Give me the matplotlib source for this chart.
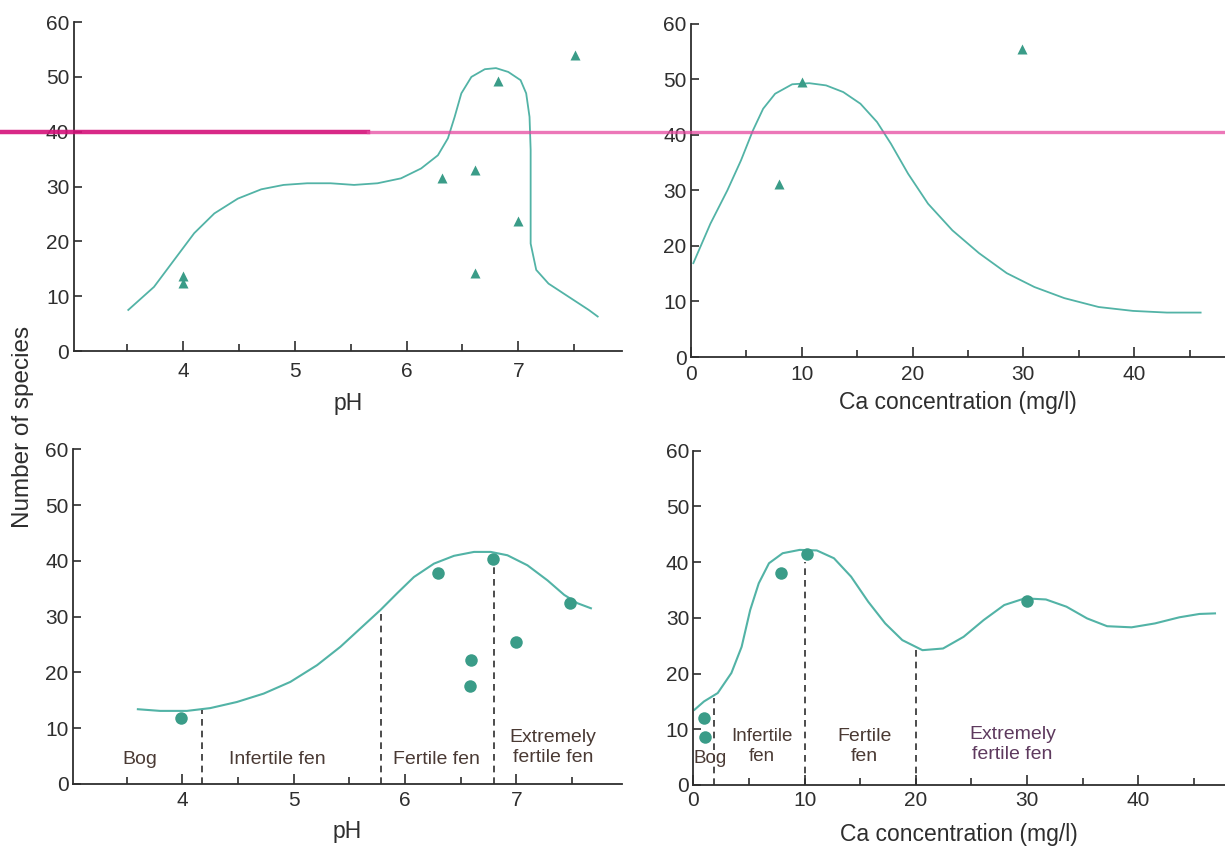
import matplotlib
matplotlib.use("Agg")
import matplotlib.pyplot as plt
import matplotlib.transforms as mtransforms
from matplotlib.lines import Line2D

plt.rcParams['font.family'] = ['Liberation Sans', 'DejaVu Sans']

# --- top left: species vs pH (triangles + fitted curve)
tl_pts_x = [4.0, 4.0, 6.32, 6.61, 6.61, 6.82, 7.0, 7.51]
tl_pts_y = [13.7, 12.5, 31.6, 33.1, 14.3, 49.2, 23.7, 54.0]
tl_curve_x = [3.51, 3.74, 3.92, 4.10, 4.28, 4.49, 4.70, 4.90, 5.11, 5.32, 5.53, 5.74,
              5.95, 6.13, 6.28, 6.37, 6.43, 6.49, 6.58, 6.70, 6.80, 6.91, 7.02, 7.07,
              7.10, 7.11, 7.11, 7.11, 7.16, 7.27, 7.45, 7.63, 7.71]
tl_curve_y = [7.5, 11.7, 16.6, 21.5, 25.1, 27.8, 29.5, 30.3, 30.6, 30.6, 30.3, 30.6,
              31.5, 33.3, 35.7, 38.8, 42.7, 47.0, 50.0, 51.4, 51.6, 50.9, 49.4, 47.0,
              42.7, 36.7, 27.5, 19.6, 14.8, 12.3, 9.9, 7.5, 6.3]

# --- top right: species vs Ca
tr_pts_x = [7.96, 10.0, 29.9]
tr_pts_y = [31.2, 49.5, 55.4]
tr_curve_x = [0.22, 1.76, 3.29, 4.52, 5.6, 6.52, 7.6, 9.14, 10.68, 12.2, 13.75, 15.3,
              16.8, 18.05, 19.6, 21.4, 23.6, 26.0, 28.5, 31.0, 33.7, 36.8, 39.9, 42.95,
              46.0]
tr_curve_y = [16.9, 24.0, 30.0, 35.4, 40.8, 44.7, 47.4, 49.1, 49.3, 48.9, 47.7, 45.6,
              42.3, 38.4, 33.0, 27.6, 22.8, 18.7, 15.1, 12.6, 10.6, 9.0, 8.3, 8.0, 8.0]

# --- bottom left: species vs pH (circles)
bl_pts_x = [3.99, 6.30, 6.59, 6.58, 6.79, 7.0, 7.48]
bl_pts_y = [11.8, 37.8, 22.3, 17.6, 40.3, 25.4, 32.5]
bl_curve_x = [3.60, 3.80, 4.04, 4.25, 4.49, 4.73, 4.97, 5.21, 5.42, 5.60, 5.78, 5.93,
              6.08, 6.26, 6.44, 6.62, 6.77, 6.92, 7.10, 7.28, 7.43, 7.55, 7.67]
bl_curve_y = [13.4, 13.1, 13.1, 13.6, 14.7, 16.2, 18.3, 21.3, 24.6, 27.9, 31.2, 34.2,
              37.1, 39.5, 40.9, 41.6, 41.6, 41.0, 39.2, 36.5, 33.9, 32.4, 31.5]
bl_bounds = [4.18, 5.78, 6.80]
bl_bound_tops = [13.3, 31.2, 39.5]
bl_zones = ["Bog", "Infertile fen", "Fertile fen", "Extremely\nfertile fen"]
bl_zone_x = [3.62, 4.85, 6.28, 7.33]
bl_zone_y = [4.4, 4.4, 4.4, 6.6]

# --- bottom right: species vs Ca (circles)
br_pts_x = [0.96, 1.02, 7.84, 10.2, 30.0]
br_pts_y = [12.0, 8.7, 38.0, 41.5, 33.0]
br_curve_x = [0.1, 0.96, 2.19, 3.42, 4.34, 5.11, 5.88, 6.8, 8.03, 9.56, 11.1, 12.64,
              14.18, 15.72, 17.25, 18.79, 20.6, 22.45, 24.3, 26.1, 27.95, 29.8, 31.7,
              33.55, 35.4, 37.2, 39.4, 41.5, 43.7, 45.5, 46.9]
br_curve_y = [13.5, 15.0, 16.5, 20.1, 24.8, 31.4, 36.2, 39.8, 41.6, 42.2, 42.1, 40.7,
              37.4, 32.9, 29.0, 26.0, 24.2, 24.5, 26.6, 29.6, 32.3, 33.5, 33.3, 32.0,
              29.9, 28.5, 28.3, 29.0, 30.1, 30.7, 30.8]
br_bounds = [1.82, 10.0, 20.0]
br_bound_tops = [15.6, 40.1, 24.5]
br_zones = ["Bog", "Infertile\nfen", "Fertile\nfen", "Extremely\nfertile fen"]
br_zone_x = [1.55, 6.15, 15.4, 28.7]
br_zone_y = [4.8, 6.9, 6.9, 7.3]

LINE = '#52b3a6'
MARK = '#3a9c88'
INK = '#2e2e2e'
ZONE = '#4a3a34'
ZONE_EXT = '#5e3a5e'


def style_axes(ax, xlim, major, minor, xlabel, xpad, lpad):
    ax.set_xlim(*xlim)
    ax.set_ylim(0, 60)
    ax.set_yticks(range(0, 61, 10))
    ax.set_xticks(major)
    ax.set_xticks(minor, minor=True)
    for side in ('top', 'right'):
        ax.spines[side].set_visible(False)
    for side in ('left', 'bottom'):
        ax.spines[side].set_color(INK)
        ax.spines[side].set_linewidth(1.3)
    ax.tick_params(axis='both', which='both', direction='in', color=INK, width=1.2,
                   labelcolor=INK, labelsize=15)
    ax.tick_params(axis='x', which='major', length=7, pad=xpad)
    ax.tick_params(axis='x', which='minor', length=5)
    ax.tick_params(axis='y', length=6, pad=3)
    ax.set_xlabel(xlabel, fontsize=16.5, color=INK, labelpad=lpad)
    ax.patch.set_alpha(0)


fig = plt.figure(figsize=(12.25, 8.48), dpi=100)
ax_tl = fig.add_axes([0.060, 0.586, 0.448, 0.388])
ax_tr = fig.add_axes([0.564, 0.579, 0.436, 0.393])
ax_bl = fig.add_axes([0.0594, 0.0755, 0.4484, 0.3947])
ax_br = fig.add_axes([0.566, 0.0743, 0.434, 0.3942])

ph_minor = [3.5, 4.5, 5.5, 6.5, 7.5]
ca_minor = [5, 15, 25, 35, 45]

style_axes(ax_tl, (3.02, 7.93), [4, 5, 6, 7], ph_minor, "pH", 8, 8)
style_axes(ax_tr, (0, 48.2), [0, 10, 20, 30, 40], ca_minor, "Ca concentration (mg/l)", 6, 5)
style_axes(ax_bl, (3.015, 7.95), [4, 5, 6, 7], ph_minor, "pH", 5, 7)
style_axes(ax_br, (0, 47.8), [0, 10, 20, 30, 40], ca_minor, "Ca concentration (mg/l)", 4, 10)

ax_tl.plot(tl_curve_x, tl_curve_y, color=LINE, lw=1.3)
ax_tl.plot(tl_pts_x, tl_pts_y, '^', color=MARK, ms=7, mec='none')
ax_tr.plot(tr_curve_x, tr_curve_y, color=LINE, lw=1.3)
ax_tr.plot(tr_pts_x, tr_pts_y, '^', color=MARK, ms=7, mec='none')

ax_bl.plot(bl_curve_x, bl_curve_y, color=LINE, lw=1.5)
ax_bl.plot(bl_pts_x, bl_pts_y, 'o', color=MARK, ms=9, mec='none')
ax_bl.vlines(bl_bounds, 0, bl_bound_tops, colors=INK, linestyles=(0, (4, 3)), lw=1.2)
for name, x, y in zip(bl_zones, bl_zone_x, bl_zone_y):
    ax_bl.text(x, y, name, ha='center', va='center', fontsize=14, color=ZONE,
               linespacing=1.25)

ax_br.plot(br_curve_x, br_curve_y, color=LINE, lw=1.5)
ax_br.plot(br_pts_x, br_pts_y, 'o', color=MARK, ms=9, mec='none')
ax_br.vlines(br_bounds, 0, br_bound_tops, colors=INK, linestyles=(0, (4, 3)), lw=1.2)
for name, x, y in zip(br_zones, br_zone_x, br_zone_y):
    ax_br.text(x, y, name, ha='center', va='center',
               fontsize=13.5 if name in ("Bog", "Infertile\nfen") else 14,
               color=ZONE_EXT if name.startswith('Extremely') else ZONE,
               linespacing=1.25)

fig.text(0.019, 0.497, "Number of species", rotation=90, ha='center', va='center',
         fontsize=17.5, color=INK)

# magenta highlighter stroke across the scan, at the 40-species level
hl = mtransforms.blended_transform_factory(fig.transFigure, ax_tl.transData)
fig.add_artist(Line2D([0, 0.3], [40, 40], transform=hl, color='#d4127a', lw=3.2, alpha=0.9))
fig.add_artist(Line2D([0.3, 1.0], [40, 40], transform=hl, color='#e64aa0', lw=2.4, alpha=0.75))

fig.savefig("out.png", dpi=100)
